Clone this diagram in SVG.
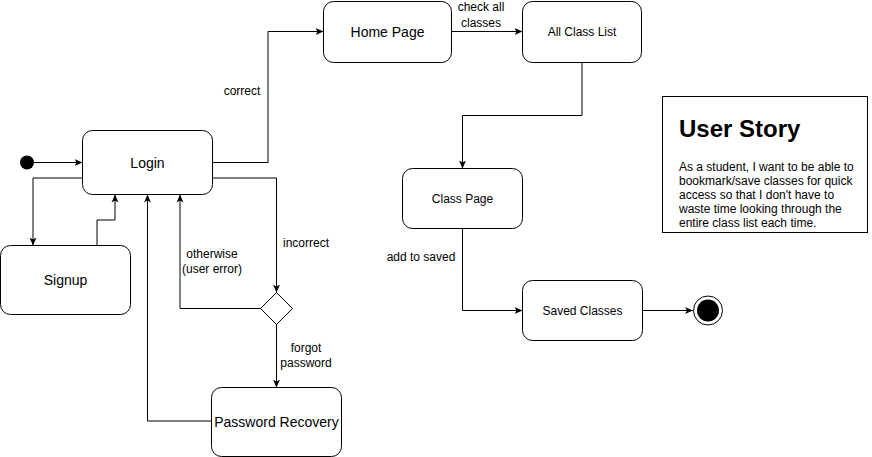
<svg xmlns="http://www.w3.org/2000/svg" width="872" height="457" viewBox="0 0 872 457">
<style>
.node{fill:#ffffff;stroke:#000000;stroke-width:1}
.edge{fill:none;stroke:#000000;stroke-width:1;marker-end:url(#arr)}
.t14{font-family:"Liberation Sans",Arial,sans-serif;font-size:14px;fill:#000;text-anchor:middle}
.t12{font-family:"Liberation Sans",Arial,sans-serif;font-size:12px;fill:#000;text-anchor:middle}
.lbl{font-family:"Liberation Sans",Arial,sans-serif;font-size:12px;fill:#000;text-anchor:middle}
</style>
<defs>
<marker id="arr" viewBox="0 0 8 8" refX="8" refY="4" markerWidth="8" markerHeight="8" markerUnits="userSpaceOnUse" orient="auto">
<path d="M0,0.5 L8,4 L0,7.5 L2,4 Z" fill="#000"/>
</marker>
</defs>
<rect width="872" height="457" fill="#ffffff"/>
<g id="connectors">
<path class="edge" d="M34,162.5 L82.5,162.5"/>
<path class="edge" d="M82.5,178 L33,178 L33,245.5"/>
<path class="edge" d="M97,245.5 L97,220 L115,220 L115,194.5"/>
<path class="edge" d="M211.5,421 L147.5,421 L147.5,194.5"/>
<path class="edge" d="M212.5,178 L276.5,178 L276.5,292.5"/>
<path class="edge" d="M260.5,308.5 L180,308.5 L180,194.5"/>
<path class="edge" d="M276.5,324.5 L276.5,387.5"/>
<path class="edge" d="M212.5,162.5 L268,162.5 L268,31.5 L323.5,31.5"/>
<path class="edge" d="M451.5,31.5 L522.5,31.5"/>
<path class="edge" d="M582,62.5 L582,115.5 L462.5,115.5 L462.5,168.5"/>
<path class="edge" d="M462.5,228.5 L462.5,310.5 L522.5,310.5"/>
<path class="edge" d="M642.5,310.5 L693,310.5"/>
<text class="lbl" x="242" y="95">correct</text>
<text class="lbl" x="481" y="11">check all</text>
<text class="lbl" x="481" y="27">classes</text>
<text class="lbl" x="306" y="247">incorrect</text>
<text class="lbl" x="212" y="257.5">otherwise</text>
<text class="lbl" x="212" y="273">(user error)</text>
<text class="lbl" x="306" y="352">forgot</text>
<text class="lbl" x="306" y="367">password</text>
<text class="lbl" x="421" y="261">add to saved</text>
</g>
<g id="start"><circle cx="27" cy="162.5" r="7" fill="#000"/></g>
<g id="login"><rect class="node" x="82.5" y="130.5" width="130" height="64" rx="10"/><text class="t14" x="147.5" y="167.5">Login</text></g>
<g id="signup"><rect class="node" x="0.5" y="245.5" width="130" height="69" rx="10"/><text class="t14" x="65.5" y="285">Signup</text></g>
<g id="password-recovery"><rect class="node" x="211.5" y="387.5" width="130" height="69" rx="10"/><text class="t14" x="276.5" y="427">Password Recovery</text></g>
<g id="decision"><path class="node" d="M276.5,292.5 L292.5,308.5 L276.5,324.5 L260.5,308.5 Z"/></g>
<g id="home-page"><rect class="node" x="323.5" y="1.5" width="128" height="61" rx="10"/><text class="t14" x="387.5" y="37">Home Page</text></g>
<g id="all-class-list"><rect class="node" x="522.5" y="1.5" width="119" height="61" rx="10"/><text class="t12" x="582" y="36">All Class List</text></g>
<g id="class-page"><rect class="node" x="402.5" y="168.5" width="120" height="60" rx="10"/><text class="t12" x="462.5" y="202.5">Class Page</text></g>
<g id="saved-classes"><rect class="node" x="522.5" y="280.5" width="120" height="60" rx="10"/><text class="t12" x="582.5" y="314.5">Saved Classes</text></g>
<g id="end"><circle cx="708" cy="310.5" r="14.5" fill="#fff" stroke="#000" stroke-width="1"/><circle cx="708" cy="310.5" r="11" fill="#000"/></g>
<g id="user-story">
<rect class="node" x="662.5" y="96.5" width="205" height="136"/>
<text x="679" y="137" font-family="'Liberation Sans',Arial,sans-serif" font-size="24" font-weight="bold" fill="#000">User Story</text>
<text font-family="'Liberation Sans',Arial,sans-serif" font-size="12" fill="#000">
<tspan x="679" y="171">As a student, I want to be able to</tspan>
<tspan x="679" y="185">bookmark/save classes for quick</tspan>
<tspan x="679" y="199">access so that I don't have to</tspan>
<tspan x="679" y="213">waste time looking through the</tspan>
<tspan x="679" y="227">entire class list each time.</tspan>
</text>
</g>
</svg>
